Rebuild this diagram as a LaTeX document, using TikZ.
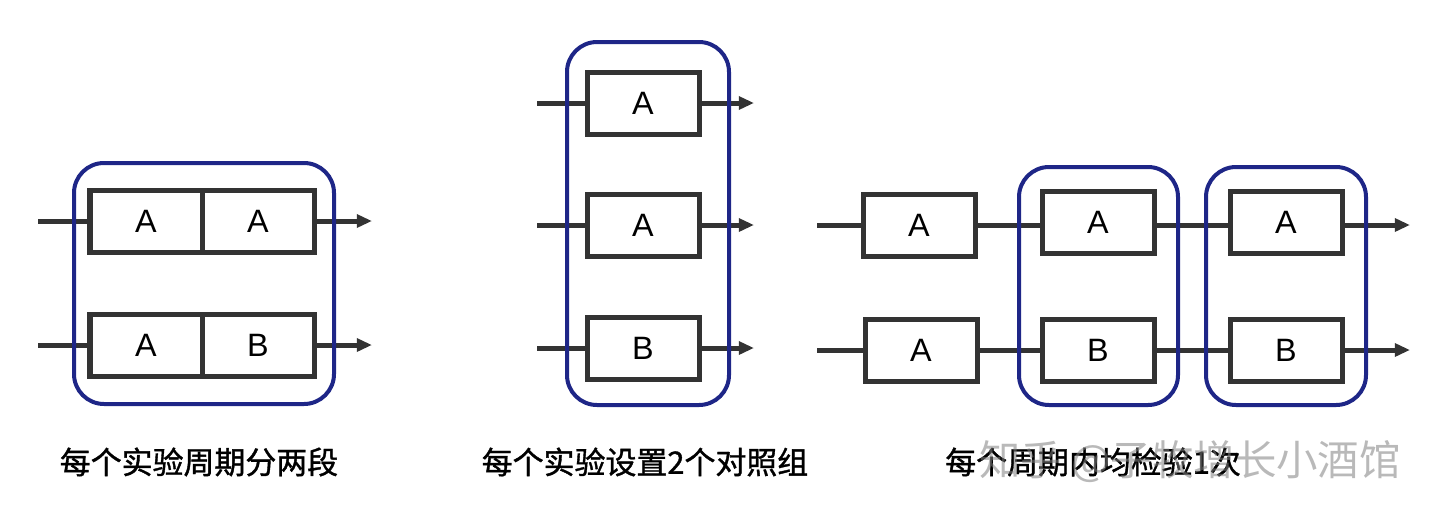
\documentclass[tikz,border=0pt]{standalone}
\usepackage{fontspec}
\setmainfont{Liberation Sans}
\newfontfamily\cjk[FakeBold=1.2]{Noto Sans CJK SC}
\newfontfamily\markfont{Noto Sans CJK SC}
\usetikzlibrary{arrows.meta}
\definecolor{boxgray}{RGB}{51,51,51}
\definecolor{groupblue}{RGB}{30,38,135}
\tikzset{
  arm/.style={boxgray, line width=1.25mm},
  armend/.style={arm, -{Triangle[length=3.8mm,width=3.2mm]}},
  cell/.style={draw=boxgray, line width=1.25mm, fill=white, minimum width=28mm,
    minimum height=15.5mm, inner sep=0pt, font=\fontsize{23}{27}\selectfont},
  group/.style={draw=groupblue, line width=1mm, rounded corners=7.5mm},
  caption/.style={font=\cjk\fontsize{22}{26}\selectfont},
  watermark/.style={font=\markfont\fontsize{29.5}{34}\selectfont, gray, opacity=0.55}
}
\begin{document}
\begin{tikzpicture}[x=0.25mm,y=-0.25mm]
  \useasboundingbox (0,0) rectangle (1440,519);
  % panel 1: two halves per cycle
  \draw (146,221) node[cell] (p1aa) {A};
  \draw (258,221) node[cell] (p1ab) {A};
  \draw (146,345) node[cell] (p1ba) {A};
  \draw (258,345) node[cell] (p1bb) {B};
  \coordinate (p1ain) at (38,221);
  \coordinate (p1aout) at (372,221);
  \coordinate (p1bin) at (38,345);
  \coordinate (p1bout) at (372,345);
  \draw [arm] (p1ain) -- (p1aa.west);
  \draw [armend] (p1ab.east) -- (p1aout);
  \draw [arm] (p1bin) -- (p1ba.west);
  \draw [armend] (p1bb.east) -- (p1bout);
  \draw [group] (74,163) rectangle (334,404);
  % panel 2: three parallel groups
  \draw (643,103) node[cell] (p2a) {A};
  \draw (643,225) node[cell] (p2b) {A};
  \draw (643,348) node[cell] (p2c) {B};
  \foreach \n/\y in {a/103, b/225, c/348} {
    \coordinate (p2\n in) at (537,\y);
    \coordinate (p2\n out) at (754,\y);
    \draw [arm] (p2\n in) -- (p2\n.west);
    \draw [armend] (p2\n.east) -- (p2\n out);
  }
  \draw [group] (567,42) rectangle (729,405);
  % panel 3: one check per cycle
  \draw (919,225) node[cell] (p3aa) {A};
  \draw (1098,222) node[cell] (p3ab) {A};
  \draw (1286,222) node[cell] (p3ac) {A};
  \draw (921,350) node[cell] (p3ba) {A};
  \draw (1098,350) node[cell] (p3bb) {B};
  \draw (1286,350) node[cell] (p3bc) {B};
  \coordinate (p3ain) at (817,225);
  \coordinate (p3aout) at (1410,225);
  \coordinate (p3bin) at (817,350);
  \coordinate (p3bout) at (1410,350);
  \draw [arm] (p3ain) -- (p3aa.west);
  \draw [arm] (p3aa.east) -- (p3ab.west |- p3aa.east);
  \draw [arm] (p3ab.east |- p3aa.east) -- (p3ac.west |- p3aa.east);
  \draw [armend] (p3ac.east |- p3aa.east) -- (p3aout);
  \draw [arm] (p3bin) -- (p3ba.west);
  \draw [arm] (p3ba.east) -- (p3bb.west);
  \draw [arm] (p3bb.east) -- (p3bc.west);
  \draw [armend] (p3bc.east) -- (p3bout);
  \draw [group] (1019,167) rectangle (1178,405);
  \draw [group] (1206,167) rectangle (1366,405);
  % captions
  \draw (199,462) node[caption] (cap1) {每个实验周期分两段};
  \draw (645,462) node[caption] (cap2) {每个实验设置2个对照组};
  \draw (1093,462) node[caption] (cap3) {每个周期内均检验1次};
  \draw (1190,462) node[watermark] (mark) {知乎 @子牧增长小酒馆};
\end{tikzpicture}
\end{document}
